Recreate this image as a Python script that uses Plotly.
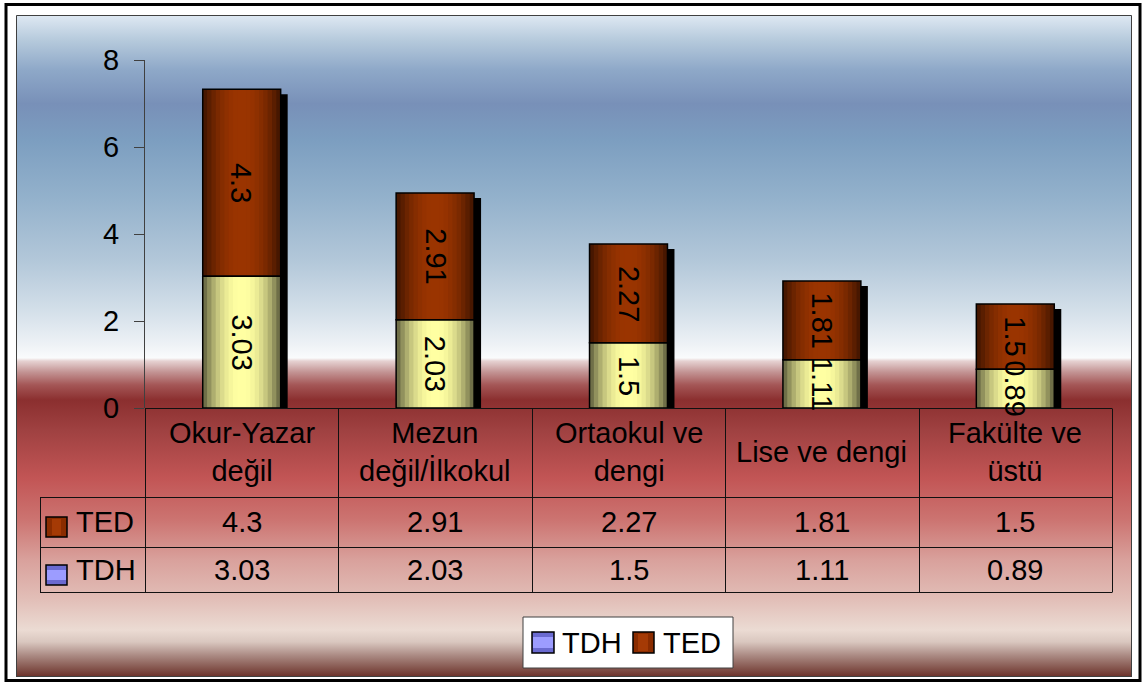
import base64
import plotly.graph_objects as go

# ---------------- data ----------------
categories = ["Okur-Yazar<br>değil", "Mezun<br>değil/İlkokul", "Ortaokul ve<br>dengi",
              "Lise ve dengi", "Fakülte ve<br>üstü"]
tdh = [3.03, 2.03, 1.5, 1.11, 0.89]
ted = [4.3, 2.91, 2.27, 1.81, 1.5]
y_ticks = [0, 2, 4, 6, 8]
series_names = ["TDH", "TED"]

FONT = "Liberation Sans, Arial, sans-serif"
FS = 29

# ---------------- geometry helpers (pixels -> paper) ----------------
W_PX, H_PX = 1144, 684
L, R, T, B = 145, 1112, 60, 408


def px(x):
    return (x - L) / (R - L)


def py(y):
    return (B - y) / (B - T)


xs = list(range(len(categories)))
BAR_W = 0.403
px_per_unit_x = (R - L) / len(categories)
px_per_unit_y = (B - T) / (y_ticks[-1] - y_ticks[0])


def hexrgb(h):
    h = h.lstrip("#")
    return tuple(int(h[i:i + 2], 16) for i in (0, 2, 4))


def mix(c1, c2, t):
    a, b = hexrgb(c1), hexrgb(c2)
    return "rgb(%d,%d,%d)" % tuple(round(a[i] + (b[i] - a[i]) * t) for i in range(3))


fig = go.Figure()

# shadow
totals = [a + b for a, b in zip(tdh, ted)]
fig.add_trace(go.Bar(
    x=xs, y=[t - 5 / px_per_unit_y for t in totals], base=0,
    width=BAR_W, offset=-BAR_W / 2 + 7 / px_per_unit_x,
    marker=dict(color="black", line=dict(width=0)),
    showlegend=False, hoverinfo="skip"))

# gradient layers (concentric bars)
N = 9
for name, vals, base, edge, center in [
    ("TDH", tdh, None, "#6f6f48", "#ffffa2"),
    ("TED", ted, tdh, "#471700", "#9a3400"),
]:
    for k in range(N):
        t = k / (N - 1)
        f = (1 - (1 - t) ** 2)
        w = BAR_W * (1 - k / N)
        fig.add_trace(go.Bar(
            x=xs, y=vals, base=base if base is not None else 0,
            width=w, offset=-w / 2,
            marker=dict(color=mix(edge, center, f), line=dict(width=0)),
            name=name, showlegend=False, hoverinfo="skip"))

# outlines
for vals, base in [(tdh, [0] * len(tdh)), (ted, tdh)]:
    fig.add_trace(go.Bar(
        x=xs, y=vals, base=base, width=BAR_W, offset=-BAR_W / 2,
        marker=dict(color="rgba(0,0,0,0)", line=dict(color="black", width=1.5)),
        showlegend=False, hoverinfo="skip"))

TXT = dict(family=FONT, size=FS, color="black")
annotations = []
# bar labels (rotated)
for i in xs:
    annotations.append(dict(x=i, y=tdh[i] / 2, xref="x", yref="y", text=str(tdh[i]),
                            textangle=90, showarrow=False, xanchor="center", yanchor="middle",
                            font=TXT))
    annotations.append(dict(x=i, y=tdh[i] + ted[i] / 2, xref="x", yref="y", text=str(ted[i]),
                            textangle=90, showarrow=False, xanchor="center", yanchor="middle",
                            font=TXT))

# data table text
for i in xs:
    annotations.append(dict(x=i, y=py(452.5), xref="x", yref="paper", text=categories[i],
                            xanchor="center", yanchor="middle", showarrow=False, font=TXT))
    annotations.append(dict(x=i, y=py(522), xref="x", yref="paper", text=str(ted[i]),
                            xanchor="center", yanchor="middle", showarrow=False, font=TXT))
    annotations.append(dict(x=i, y=py(570), xref="x", yref="paper", text=str(tdh[i]),
                            xanchor="center", yanchor="middle", showarrow=False, font=TXT))

annotations.append(dict(x=px(74), y=py(522), xref="paper", yref="paper", text=series_names[1],
                        xanchor="left", yanchor="middle", showarrow=False, font=TXT))
annotations.append(dict(x=px(74), y=py(570), xref="paper", yref="paper", text=series_names[0],
                        xanchor="left", yanchor="middle", showarrow=False, font=TXT))

# legend text
annotations.append(dict(x=px(560), y=py(643), xref="paper", yref="paper", text=series_names[0],
                        xanchor="left", yanchor="middle", showarrow=False, font=TXT))
annotations.append(dict(x=px(661), y=py(643), xref="paper", yref="paper", text=series_names[1],
                        xanchor="left", yanchor="middle", showarrow=False, font=TXT))

shapes = []


def rect(x0, y0, x1, y1, line="#202020", lw=1, fill=None, layer="above"):
    d = dict(type="rect", xref="paper", yref="paper", x0=px(x0), x1=px(x1), y0=py(y0), y1=py(y1),
             line=dict(color=line, width=lw), layer=layer)
    if fill:
        d["fillcolor"] = fill
    shapes.append(d)


def hline(x0, x1, y, color="#111111", w=1):
    shapes.append(dict(type="line", xref="paper", yref="paper", x0=px(x0), x1=px(x1),
                       y0=py(y), y1=py(y), line=dict(color=color, width=w)))


def vline(x, y0, y1, color="#111111", w=1):
    shapes.append(dict(type="line", xref="paper", yref="paper", x0=px(x), x1=px(x),
                       y0=py(y0), y1=py(y1), line=dict(color=color, width=w)))


# outer frame and panel border
rect(6, 4.5, 1140, 680.5, line="black", lw=3)
rect(16.5, 15.5, 1131.5, 676.5, line="#404040", lw=1)

# table grid
hline(L, R, 408.5)
hline(40, R, 497.5)
hline(40, R, 547.5)
hline(40, R, 592.5)
vline(40.5, 497.5, 592.5)
for k in range(len(categories) + 1):
    vline(round(L + k * px_per_unit_x) + 0.5, 408.5, 592.5)

# table icons
rect(46, 517, 67, 537, line="black", lw=1.5, fill="#8a2c00")
rect(52, 519, 61, 535, line="rgba(0,0,0,0)", lw=0, fill="#a53a05")
rect(46, 565, 67, 585, line="black", lw=1.5, fill="#6a6ad0")
rect(47, 570, 66, 580, line="rgba(0,0,0,0)", lw=0, fill="#9c9cff")

# legend box
rect(523, 617, 733, 668, line="#404040", lw=1, fill="white")
rect(532, 632, 554, 653, line="black", lw=1.5, fill="#6a6ad0")
rect(533, 637, 553, 648, line="rgba(0,0,0,0)", lw=0, fill="#9c9cff")
rect(633, 632, 654, 653, line="black", lw=1.5, fill="#8a2c00")
rect(638, 634, 648, 651, line="rgba(0,0,0,0)", lw=0, fill="#a53a05")

# background gradient as svg
P_TOP, P_BOT = 15, 677
stops = [(15, "#dfe9f3"), (40, "#b6cadc"), (70, "#8ea8c8"), (104, "#7890b8"),
         (140, "#7c9ec0"), (200, "#94b2cc"), (260, "#b2c7d9"), (310, "#d3dfe9"),
         (345, "#eef2f6"), (358, "#fafbfc"), (361, "#e6d2d2"), (372, "#c39494"),
         (385, "#a45656"), (400, "#8b2f2f"), (430, "#9f4141"), (478, "#c25555"),
         (520, "#cc7471"), (560, "#d9a19c"), (600, "#e2bfb8"), (630, "#ebdbd3"),
         (642, "#d9c7bf"), (656, "#a98881"), (677, "#6a3028")]
stop_xml = "".join('<stop offset="%.4f" stop-color="%s"/>' % ((y - P_TOP) / (P_BOT - P_TOP), c)
                   for y, c in stops)
svg = ('<svg xmlns="http://www.w3.org/2000/svg" width="1116" height="662" '
       'preserveAspectRatio="none" viewBox="0 0 1116 662">'
       '<defs><linearGradient id="g" x1="0" y1="0" x2="0" y2="1">' + stop_xml +
       '</linearGradient></defs><rect x="0" y="0" width="1116" height="662" fill="url(#g)"/></svg>')
src = "data:image/svg+xml;base64," + base64.b64encode(svg.encode()).decode()

fig.update_layout(
    width=W_PX, height=H_PX,
    margin=dict(l=L, r=W_PX - R, t=T, b=H_PX - B, pad=0),
    paper_bgcolor="white", plot_bgcolor="rgba(0,0,0,0)",
    barmode="overlay", showlegend=False,
    font=dict(family=FONT, size=FS, color="black"),
    images=[dict(source=src, xref="paper", yref="paper", x=px(16), y=py(P_TOP),
                 sizex=px(1132) - px(16), sizey=py(P_TOP) - py(P_BOT),
                 sizing="stretch", layer="below", xanchor="left", yanchor="top")],
    shapes=shapes, annotations=annotations,
    xaxis=dict(range=[-0.5, len(categories) - 0.5], showticklabels=False, showgrid=False,
               zeroline=False, showline=False, ticks="", fixedrange=True),
    yaxis=dict(range=[y_ticks[0], y_ticks[-1]], tickvals=y_ticks, showgrid=False, zeroline=False,
               showline=True, linecolor="#404040", linewidth=1, ticks="outside", ticklen=10,
               tickcolor="#404040", tickwidth=1, ticklabelstandoff=9,
               tickfont=dict(family=FONT, size=FS, color="black")),
)

fig.write_html("out.html", config={"displayModeBar": False},
               post_script="document.body.style.margin='0';document.body.style.overflow='hidden';")
